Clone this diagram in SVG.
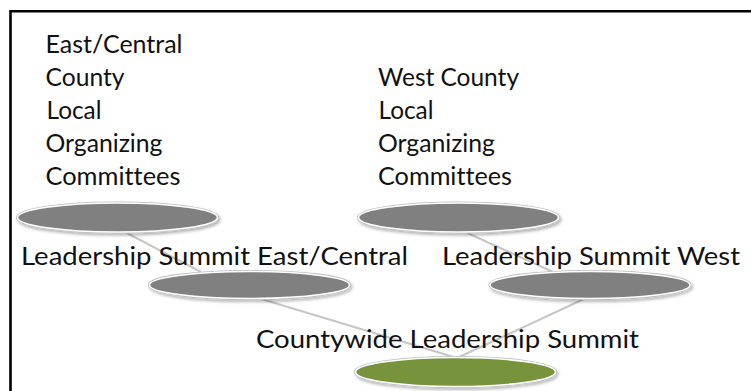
<svg xmlns="http://www.w3.org/2000/svg" width="751" height="391" viewBox="0 0 751 391">
<style>
text{font-family:Lato,"Open Sans","Liberation Sans",sans-serif;font-size:25.5px;fill:#111111;font-variant-ligatures:none;font-feature-settings:"liga" 0}
.node{fill:#808080;stroke:#ffffff;stroke-width:1.6}
.green{fill:#77933c}
.rim{fill:none;stroke:#bdbdbd;stroke-width:3.2}
.conn{stroke:#c6c6c6;stroke-width:2;fill:none}
</style>
<defs>
<filter id="sh" x="-10%" y="-40%" width="120%" height="180%">
<feDropShadow dx="1.5" dy="2" stdDeviation="1.5" flood-color="#000" flood-opacity="0.3"/>
</filter>
</defs>
<rect x="0" y="0" width="751" height="391" fill="#ffffff"/>
<path d="M10.5,391 V11.2 H751" fill="none" stroke="#000" stroke-width="2.6"/>
<g id="labels-top">
<text x="45.5" y="53" textLength="137" lengthAdjust="spacingAndGlyphs">East/Central</text>
<text x="45.5" y="86" textLength="79" lengthAdjust="spacingAndGlyphs">County</text>
<text x="46.5" y="119" textLength="55" lengthAdjust="spacingAndGlyphs">Local</text>
<text x="45.5" y="152" textLength="117" lengthAdjust="spacingAndGlyphs">Organizing</text>
<text x="45.5" y="185" textLength="135" lengthAdjust="spacingAndGlyphs">Committees</text>
<text x="378" y="86" textLength="141" lengthAdjust="spacingAndGlyphs">West County</text>
<text x="378.5" y="119" textLength="55" lengthAdjust="spacingAndGlyphs">Local</text>
<text x="378" y="152" textLength="117" lengthAdjust="spacingAndGlyphs">Organizing</text>
<text x="378" y="185" textLength="134" lengthAdjust="spacingAndGlyphs">Committees</text>
</g>
<g id="connectors">
<line class="conn" x1="123" y1="231" x2="201" y2="272"/>
<line class="conn" x1="463" y1="231" x2="553" y2="272"/>
<line class="conn" x1="258" y1="298" x2="457" y2="358"/>
<line class="conn" x1="586" y1="298" x2="457" y2="358"/>
</g>
<g id="east-central-committees" filter="url(#sh)">
<ellipse class="rim" cx="117.5" cy="217.5" rx="100" ry="14.5"/>
<ellipse class="node" cx="117.5" cy="217.5" rx="100" ry="14.5"/>
</g>
<g id="west-committees" filter="url(#sh)">
<ellipse class="rim" cx="458.5" cy="217.5" rx="100" ry="14.5"/>
<ellipse class="node" cx="458.5" cy="217.5" rx="100" ry="14.5"/>
</g>
<g id="summit-east-central">
<ellipse class="rim" cx="249.5" cy="285" rx="100" ry="13.5" filter="url(#sh)"/>
<ellipse class="node" cx="249.5" cy="285" rx="100" ry="13.5"/>
<text x="21" y="265" textLength="387" lengthAdjust="spacingAndGlyphs">Leadership Summit East/Central</text>
</g>
<g id="summit-west">
<ellipse class="rim" cx="590" cy="285" rx="100" ry="13.5" filter="url(#sh)"/>
<ellipse class="node" cx="590" cy="285" rx="100" ry="13.5"/>
<text x="442" y="265" textLength="298" lengthAdjust="spacingAndGlyphs">Leadership Summit West</text>
</g>
<g id="countywide-summit">
<ellipse class="rim" cx="455.5" cy="372" rx="100" ry="14.5" filter="url(#sh)"/>
<ellipse class="node green" cx="455.5" cy="372" rx="100" ry="14.5"/>
<text x="256" y="348" textLength="383" lengthAdjust="spacingAndGlyphs">Countywide Leadership Summit</text>
</g>
</svg>
